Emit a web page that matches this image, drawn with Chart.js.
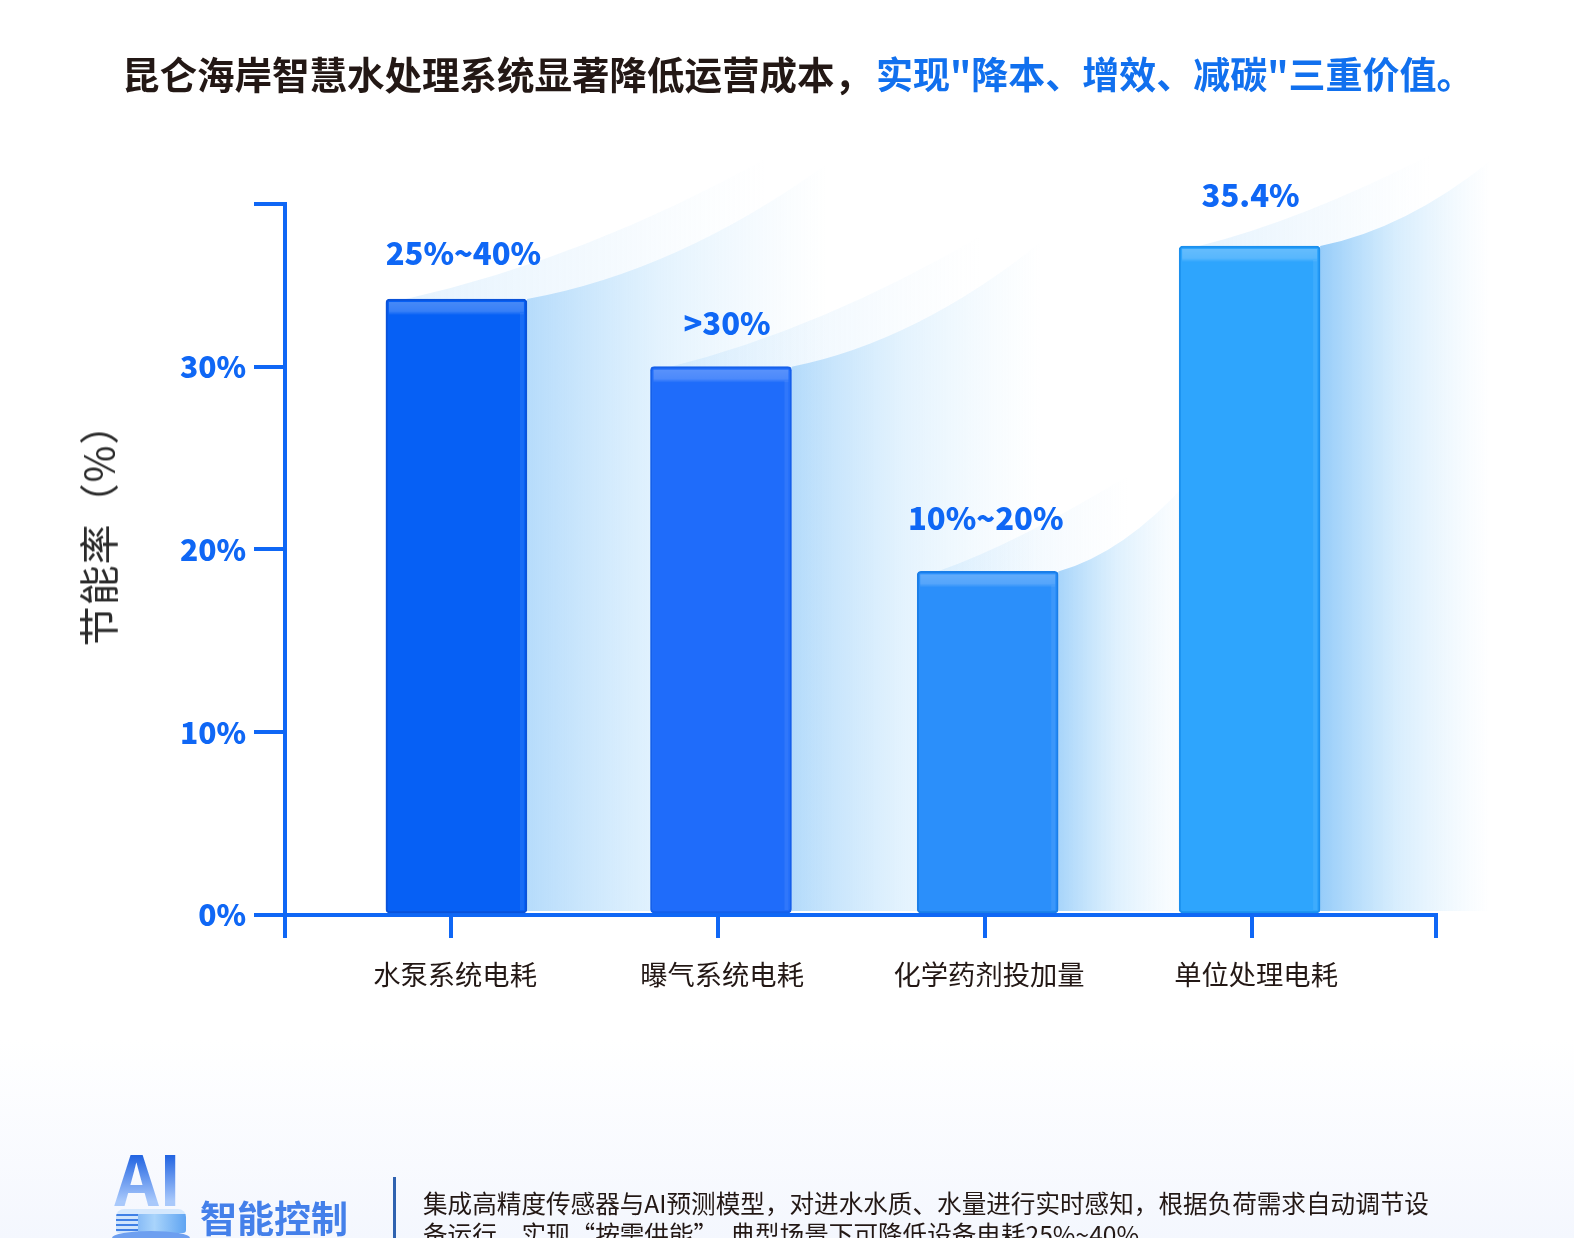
<!DOCTYPE html>
<html>
<head>
    <meta charset="utf-8">
    <title>节能率</title>
    <style>
        html, body { margin: 0; padding: 0; }
        body {
            width: 1574px;
            height: 1238px;
            overflow: hidden;
            position: relative;
            font-family: "Noto Sans CJK SC", sans-serif;
            color: #231815;
            background: linear-gradient(to bottom, #ffffff 1040px, #f4f7fe 1238px);
        }
        #chart { position: absolute; left: 0; top: 0; }
        #heading {
            position: absolute; left: 122px; top: 47px;
            font-size: 37.5px; line-height: 52px; font-weight: 700;
            white-space: nowrap;
        }
        #heading span { color: #1170ee; margin-left: 4px; font-size: 37px; }
        #y-title {
            position: absolute; left: 97px; top: 525px;
            transform: translate(-50%, -50%) rotate(-90deg);
            font-size: 40px; line-height: 44px; letter-spacing: 1px; white-space: nowrap; color: #2b2b2b;
        }
        #ai {
            position: absolute; left: 114px; top: 1134px; width: 68px;
            font-size: 69px; line-height: 84px; font-weight: 700; text-align: center;
            background: linear-gradient(to bottom, #1a5ee0 22%, #a9c9fb 80%);
            -webkit-background-clip: text; background-clip: text; color: transparent;
        }
        #chip {
            position: absolute; left: 116px; top: 1209px; width: 70px; height: 24px;
            border-radius: 8px 8px 3px 3px;
            background: linear-gradient(to bottom, #d5e8fd 0 5px, transparent 5px),
                        repeating-linear-gradient(to bottom, #3f80e6 0 2px, #cfe4fc 2px 5px) left / 22px 100% no-repeat,
                        linear-gradient(to right, #5b9bf0, #a9d4fb 55%, #5fa4f2);
        }
        #chip-base {
            position: absolute; left: 112px; top: 1231px; width: 78px; height: 14px;
            border-radius: 50%; background: #6d9ff0;
        }
        #feature {
            position: absolute; left: 200px; top: 1192px;
            font-size: 37px; line-height: 50px; font-weight: 700; color: #4480ea; white-space: nowrap;
        }
        #divider { position: absolute; left: 393px; top: 1177px; width: 3px; height: 61px; background: #2f62b0; }
        #desc {
            position: absolute; left: 423px; top: 1187px; width: 1012px;
            font-size: 24.6px; line-height: 31px;
        }
    </style>
</head>
<body>
    <canvas id="chart" width="1574" height="1238"></canvas>
    <div id="heading">昆仑海岸智慧水处理系统显著降低运营成本，<span>实现"降本、增效、减碳"三重价值。</span></div>
    <div id="y-title">节能率（%）</div>
    <div id="ai">AI</div>
    <div id="chip"></div>
    <div id="chip-base"></div>
    <div id="feature">智能控制</div>
    <div id="divider"></div>
    <div id="desc">集成高精度传感器与AI预测模型，对进水水质、水量进行实时感知，根据负荷需求自动调节设备运行，实现“按需供能”，典型场景下可降低设备电耗25%~40%。</div>

    <script src="https://cdn.jsdelivr.net/npm/chart.js"></script>
    <script>
        // values
        var categories = ['水泵系统电耗', '曝气系统电耗', '化学药剂投加量', '单位处理电耗'];
        var savings = [33.7, 30, 18.8, 36.6];
        var barLabels = ['25%~40%', '>30%', '10%~20%', '35.4%'];
        var barPositions = [0.02, 1.011, 2.01, 2.991];
        var yTicks = [0, 10, 20, 30];
        var yTop = 38.9;
        var xMin = -0.622;
        var xMax = 3.689;

        // styling per bar
        var fills = ['#0660f5', '#1f6cfa', '#2b8ffa', '#2ea5fd'];
        var edges = ['#0a52d8', '#1560ea', '#1a7ee8', '#1b90ee'];
        var glowAlpha = [0.42, 0.42, 0.5, 0.6];
        var glowReach = [300, 250, 130, 170];
        var glowRise = [135, 125, 90, 85];
        var labelShift = [[7, -46], [6, -43], [-2, -53], [1, -51]];

        var BLUE = '#0f67f5';

        var glowPlugin = {
            id: 'glow',
            beforeDatasetsDraw: function (chart) {
                var ctx = chart.ctx;
                var bars = chart.getDatasetMeta(0).data;
                bars.forEach(function (bar, i) {
                    var right = bar.x + bar.width / 2;
                    var left = bar.x - bar.width / 2;
                    var reach = glowReach[i], rise = glowRise[i];
                    var endY = bar.y - rise;

                    // pale band between the outer and inner curve, gone before its flat end
                    var pale = ctx.createLinearGradient(left, 0, right + reach - 60, 0);
                    pale.addColorStop(0, 'rgba(150,205,250,0.26)');
                    pale.addColorStop(0.6, 'rgba(170,215,250,0.12)');
                    pale.addColorStop(1, 'rgba(190,225,252,0)');
                    ctx.fillStyle = pale;
                    ctx.beginPath();
                    ctx.moveTo(left + 20, bar.y);
                    ctx.quadraticCurveTo(left + 20 + reach * 0.6, bar.y - rise * 0.3, right + reach - 60, endY - 6);
                    ctx.lineTo(right + reach, endY);
                    ctx.quadraticCurveTo(right + reach * 0.5, bar.y - rise * 0.2, right, bar.y);
                    ctx.closePath();
                    ctx.fill();

                    // main glow under the inner curve
                    var main = ctx.createLinearGradient(right, 0, right + reach, 0);
                    main.addColorStop(0, 'rgba(80,170,245,' + glowAlpha[i] + ')');
                    main.addColorStop(0.45, 'rgba(110,190,248,' + glowAlpha[i] * 0.45 + ')');
                    main.addColorStop(1, 'rgba(150,210,250,0)');
                    ctx.fillStyle = main;
                    ctx.beginPath();
                    ctx.moveTo(right, bar.y);
                    ctx.quadraticCurveTo(right + reach * 0.5, bar.y - rise * 0.2, right + reach, endY);
                    ctx.lineTo(right + reach, bar.base - 2);
                    ctx.lineTo(right, bar.base - 2);
                    ctx.closePath();
                    ctx.fill();
                });
            },
            afterDatasetsDraw: function (chart) {
                var ctx = chart.ctx;
                var bars = chart.getDatasetMeta(0).data;
                bars.forEach(function (bar, i) {
                    var left = bar.x - bar.width / 2;
                    // soft light strip along the top and right side of each bar
                    var strip = ctx.createLinearGradient(0, bar.y + 3, 0, bar.y + 16);
                    strip.addColorStop(0, 'rgba(255,255,255,0.26)');
                    strip.addColorStop(0.7, 'rgba(255,255,255,0.2)');
                    strip.addColorStop(1, 'rgba(255,255,255,0)');
                    ctx.fillStyle = strip;
                    ctx.fillRect(left + 3, bar.y + 3, bar.width - 6, 13);
                    ctx.fillStyle = 'rgba(255,255,255,0.08)';
                    ctx.fillRect(left + bar.width - 7, bar.y + 14, 4, bar.base - bar.y - 17);

                    ctx.font = '900 31px "Noto Sans CJK SC", sans-serif';
                    ctx.fillStyle = BLUE;
                    ctx.textAlign = 'center';
                    ctx.textBaseline = 'middle';
                    ctx.fillText(barLabels[i], bar.x + labelShift[i][0], bar.y + labelShift[i][1]);
                });
            }
        };

        new Chart(document.getElementById('chart').getContext('2d'), {
            type: 'bar',
            data: {
                datasets: [{
                    data: barPositions.map(function (x, i) { return { x: x, y: savings[i] }; }),
                    backgroundColor: fills,
                    borderColor: edges,
                    borderWidth: 2,
                    borderRadius: 4,
                    borderSkipped: false,
                    barThickness: 141
                }]
            },
            options: {
                responsive: false,
                animation: false,
                layout: { padding: { top: 204, right: 138 } },
                plugins: { legend: { display: false }, tooltip: { enabled: false } },
                scales: {
                    x: {
                        type: 'linear',
                        offset: false,
                        min: xMin,
                        max: xMax,
                        afterBuildTicks: function (s) {
                            s.ticks = [xMin, 0, 1, 2, 3, xMax].map(function (v) { return { value: v }; });
                        },
                        afterFit: function (s) { s.height = 323; },
                        border: { color: BLUE, width: 4 },
                        grid: { offset: false, drawOnChartArea: false, color: BLUE, tickColor: BLUE, tickLength: 23, lineWidth: 4 },
                        ticks: {
                            autoSkip: false,
                            maxRotation: 0,
                            padding: 20,
                            labelOffset: 4,
                            color: '#231815',
                            font: { size: 27.3, family: '"Noto Sans CJK SC", sans-serif' },
                            callback: function (v) { return categories[v] || ''; }
                        }
                    },
                    y: {
                        min: 0,
                        max: yTop,
                        afterBuildTicks: function (s) {
                            s.ticks = yTicks.concat([yTop]).map(function (v) { return { value: v }; });
                        },
                        afterFit: function (s) { s.width = 285; },
                        border: { color: BLUE, width: 4 },
                        grid: { drawOnChartArea: false, color: BLUE, tickColor: BLUE, tickLength: 31, lineWidth: 4 },
                        ticks: {
                            padding: 8,
                            color: BLUE,
                            font: { size: 30, weight: '900', family: '"Noto Sans CJK SC", sans-serif' },
                            callback: function (v) { return yTicks.indexOf(v) >= 0 ? v + '%' : ''; }
                        }
                    }
                }
            },
            plugins: [glowPlugin]
        });
    </script>
</body>
</html>
